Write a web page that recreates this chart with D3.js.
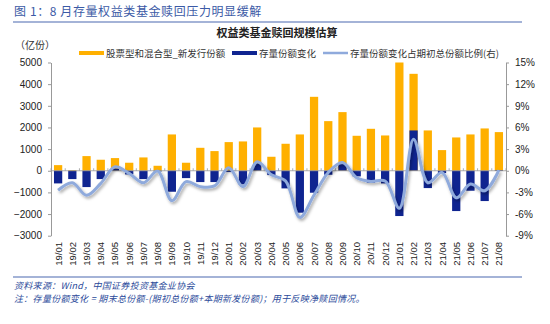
<!DOCTYPE html>
<meta charset="utf-8">
<script src="https://d3js.org/d3.v7.min.js"></script>
<style>
  body { margin: 0; background: #fff; }
  svg text { font-family: "Liberation Sans", Arial, "Noto Sans CJK SC", sans-serif; }
</style>
<div id="my_dataviz"></div>
<script>

    // data
    var months = ["19/01","19/02","19/03","19/04","19/05","19/06","19/07","19/08","19/09","19/10","19/11","19/12",
                  "20/01","20/02","20/03","20/04","20/05","20/06","20/07","20/08","20/09","20/10","20/11","20/12",
                  "21/01","21/02","21/03","21/04","21/05","21/06","21/07","21/08"];
    var newIssue = [260, 30, 677, 508, 585, 370, 615, 230, 1677, 370, 1060, 908,
                    1323, 1354, 2000, 646, 1246, 1677, 3415, 2292, 2708, 1615, 1938, 1630,
                    5000, 4477, 1862, 954, 1538, 1677, 1954, 1785];
    var stockChange = [-585, -385, -754, -385, 100, -170, -385, -30, -970, -340, -523, -523,
                       -60, -630, 340, -200, -815, -1938, -1015, -185, 308, -260, -554, -585,
                       -2092, 1862, -800, -108, -1862, -923, -1400, 30];
    var ratio = [-2.7, -1.66, -3.4, -1.75, 0.55, -0.37, -1.66, -0.05, -4.15, -1.5, -2.2, -2.1,
                 0.4, -2.2, 1.25, -0.55, -1.43, -6.46, -3.37, -0.23, 1.15, -0.97, -1.48, -1.43,
                 -5.2, 4.38, -1.66, -0.23, -3.74, -1.85, -2.77, 0.1];
    var leftTicks = [5000, 4000, 3000, 2000, 1000, 0, -1000, -2000, -3000];
    var rightTicks = [15, 12, 9, 6, 3, 0, -3, -6, -9];

    // plot area
    var plot = {left: 51, right: 506, top: 62.5, bottom: 235.7};

    var svg = d3.select("#my_dataviz")
        .append("svg")
            .attr("width", 550)
            .attr("height", 324);

    var defs = svg.append("defs");
    defs.append("filter").attr("id", "shadow")
        .attr("x", "-10%").attr("y", "-20%").attr("width", "120%").attr("height", "150%")
        .append("feDropShadow")
            .attr("dx", 1.5).attr("dy", 2).attr("stdDeviation", 1.5)
            .attr("flood-color", "#000").attr("flood-opacity", 0.35);

    // figure title + rule
    svg.append("text")
        .attr("x", 14).attr("y", 16)
        .style("font-family", "'Noto Sans CJK SC', sans-serif")
        .style("font-size", "12px")
        .style("letter-spacing", "0.6px")
        .attr("fill", "#3b5aa6")
        .text("图 1：8 月存量权益类基金赎回压力明显缓解");
    svg.append("line").attr("x1", 13).attr("x2", 522).attr("y1", 22).attr("y2", 22)
        .attr("stroke", "#4a68b0").attr("stroke-width", 1.2);

    // chart title
    svg.append("text")
        .attr("x", 277).attr("y", 37)
        .attr("text-anchor", "middle")
        .style("font-family", "'Noto Sans CJK SC', sans-serif")
        .style("font-size", "11px").style("font-weight", "bold")
        .attr("fill", "#222")
        .text("权益类基金赎回规模估算");

    svg.append("text")
        .attr("x", 35).attr("y", 49)
        .attr("text-anchor", "middle")
        .style("font-family", "'Noto Sans CJK SC', sans-serif")
        .style("font-size", "10px")
        .attr("fill", "#333")
        .text("（亿份）");

    // legend
    var legend = [
        {x: 79, color: "#ffb000", h: 4, label: "股票型和混合型_新发行份额"},
        {x: 232, color: "#0f2490", h: 4, label: "存量份额变化"},
        {x: 323, color: "#8faadc", h: 2.5, label: "存量份额变化占期初总份额比例(右)"}
    ];
    legend.forEach(function(d) {
        svg.append("rect").attr("x", d.x).attr("y", 53 - d.h / 2).attr("width", 25).attr("height", d.h)
            .attr("fill", d.color);
        svg.append("text").attr("x", d.x + 27).attr("y", 56.5)
            .style("font-family", "'Noto Sans CJK SC', sans-serif")
            .style("font-size", "9.5px")
            .attr("fill", "#333")
            .text(d.label);
    });

    // scales
    var x = d3.scaleBand()
        .range([plot.left, plot.right])
        .domain(months)
        .paddingInner(0.42)
        .paddingOuter(0.21);
    var step = (plot.right - plot.left) / months.length;

    var y = d3.scaleLinear()
        .domain([-3000, 5000])
        .range([plot.bottom, plot.top]);
    var y2 = d3.scaleLinear()
        .domain([-9, 15])
        .range([plot.bottom, plot.top]);

    // axes
    var gl = svg.append("g")
        .attr("transform", "translate(" + plot.left + ",0)")
        .call(d3.axisLeft(y).tickValues(leftTicks).tickSize(3).tickSizeOuter(0).tickPadding(6)
            .tickFormat(d3.format("d")));
    gl.select(".domain").attr("stroke", "#999");
    gl.selectAll(".tick line").attr("stroke", "#999");
    gl.selectAll("text").style("font-size", "10px").attr("fill", "#222");

    var gr = svg.append("g")
        .attr("transform", "translate(" + plot.right + ",0)")
        .call(d3.axisRight(y2).tickValues(rightTicks).tickSize(3).tickSizeOuter(0).tickPadding(6)
            .tickFormat(function(d) { return d + "%"; }));
    gr.select(".domain").attr("stroke", "#999");
    gr.selectAll(".tick line").attr("stroke", "#999");
    gr.selectAll("text").style("font-size", "10px").attr("fill", "#222");

    // bars: new issuance, then stock change drawn over it
    svg.selectAll(".bar-new")
        .data(months)
        .enter()
        .append("rect")
        .attr("x", function(d) { return x(d); })
        .attr("y", function(d, i) { return y(Math.max(0, newIssue[i])); })
        .attr("width", x.bandwidth())
        .attr("height", function(d, i) { return Math.abs(y(newIssue[i]) - y(0)); })
        .attr("fill", "#ffb000");

    svg.selectAll(".bar-chg")
        .data(months)
        .enter()
        .append("rect")
        .attr("x", function(d) { return x(d); })
        .attr("y", function(d, i) { return y(Math.max(0, stockChange[i])); })
        .attr("width", x.bandwidth())
        .attr("height", function(d, i) { return Math.abs(y(stockChange[i]) - y(0)); })
        .attr("fill", "#0f2490");

    // zero line with small category ticks
    svg.append("line").attr("x1", plot.left).attr("x2", plot.right).attr("y1", y(0)).attr("y2", y(0))
        .attr("stroke", "#999").attr("stroke-width", 0.8);
    svg.selectAll(".zt")
        .data(d3.range(months.length + 1))
        .enter().append("line")
        .attr("x1", function(i) { return plot.left + i * step; })
        .attr("x2", function(i) { return plot.left + i * step; })
        .attr("y1", y(0)).attr("y2", y(0) - 2.5)
        .attr("stroke", "#999").attr("stroke-width", 0.8);

    // ratio line on right axis
    var line = d3.line()
        .x(function(d, i) { return x(months[i]) + x.bandwidth() / 2; })
        .y(function(d) { return y2(d); })
        .curve(d3.curveCatmullRom.alpha(0.5));
    svg.append("path")
        .datum(ratio)
        .attr("d", line)
        .attr("fill", "none")
        .attr("stroke", "#8faadc")
        .attr("stroke-width", 3)
        .attr("filter", "url(#shadow)");

    // x labels
    svg.selectAll(".xl")
        .data(months)
        .enter()
        .append("text")
        .attr("transform", function(d) {
            return "translate(" + (x(d) + x.bandwidth() / 2 + 3.5) + ",242)rotate(-90)";
        })
        .style("text-anchor", "end")
        .style("font-size", "9.5px")
        .attr("fill", "#222")
        .text(function(d) { return d; });

    // footer
    svg.append("line").attr("x1", 13).attr("x2", 522).attr("y1", 277).attr("y2", 277)
        .attr("stroke", "#4a68b0").attr("stroke-width", 1.2);
    svg.append("text").attr("x", 14).attr("y", 289)
        .style("font-family", "'Noto Sans CJK SC', sans-serif")
        .style("font-size", "9px").style("font-style", "italic")
        .style("letter-spacing", "0.3px")
        .attr("fill", "#2b4a9a")
        .text("资料来源：Wind，中国证券投资基金业协会");
    svg.append("text").attr("x", 14).attr("y", 302)
        .style("font-family", "'Noto Sans CJK SC', sans-serif")
        .style("font-size", "9px").style("font-style", "italic")
        .style("letter-spacing", "0.3px")
        .attr("fill", "#2b4a9a")
        .text("注：存量份额变化 = 期末总份额-(期初总份额+本期新发份额)；用于反映净赎回情况。");

</script>
